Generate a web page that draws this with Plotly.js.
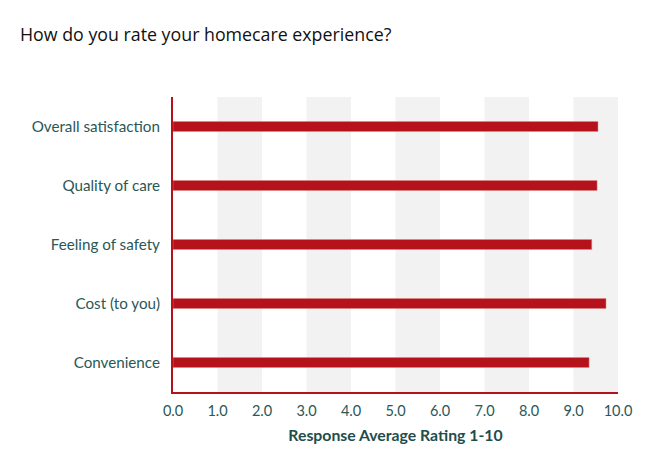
<!DOCTYPE html>
<html>
<head>
<meta charset="utf-8">
<script src="https://cdn.plot.ly/plotly-3.0.1.min.js"></script>
<style>html,body{margin:0;padding:0;background:#fff}#chart{width:667px;height:469px}</style>
</head>
<body>
<div id="chart"></div>
<script>
const categories = ["Overall satisfaction", "Quality of care", "Feeling of safety", "Cost (to you)", "Convenience"];
const ratings = [9.55, 9.53, 9.41, 9.73, 9.35];
const tickValues = [0, 1, 2, 3, 4, 5, 6, 7, 8, 9, 10];
const bandStarts = [1, 3, 5, 7, 9];

const red = "#b5121b";
const teal = "#2a5757";

const shapes = bandStarts.map(s => ({
  type: "rect", xref: "x", yref: "paper", x0: s, x1: s + 1, y0: 0, y1: 1,
  fillcolor: "#f2f2f2", line: {width: 0}, layer: "below"
}));

const trace = {
  type: "bar", orientation: "h",
  x: ratings, y: categories,
  marker: {color: red, line: {color: "#d88", width: 0.5}},
  width: 0.17, hoverinfo: "x+y"
};

const layout = {
  width: 667, height: 469,
  margin: {l: 173, r: 49, t: 97, b: 77},
  paper_bgcolor: "#fff", plot_bgcolor: "#fff",
  showlegend: false,
  title: {text: "How do you rate your homecare experience?", x: 20/667, xanchor: "left", y: 1 - 35/469, yanchor: "middle",
    font: {family: "Open Sans, sans-serif", size: 17.8, color: "#111"}},
  xaxis: {
    range: [0, 10], tickvals: tickValues, tickformat: ".1f", showgrid: false, zeroline: false,
    showline: true, linecolor: red, linewidth: 2, ticks: "", fixedrange: true, ticklabelstandoff: 5,
    tickfont: {family: "Lato, sans-serif", size: 14.5, color: teal},
    title: {text: "<b>Response Average Rating 1-10</b>", standoff: 12, font: {family: "Lato, sans-serif", size: 15.8, color: "#1e4d4b"}}
  },
  yaxis: {
    autorange: "reversed", type: "category", showgrid: false, zeroline: false,
    showline: true, linecolor: red, linewidth: 2, ticks: "", ticklabelstandoff: 8,
    tickfont: {family: "Lato, sans-serif", size: 15.2, color: teal}, fixedrange: true
  },
  shapes: shapes
};

Plotly.newPlot("chart", [trace], layout, {displayModeBar: false, staticPlot: true});
</script>
</body>
</html>
